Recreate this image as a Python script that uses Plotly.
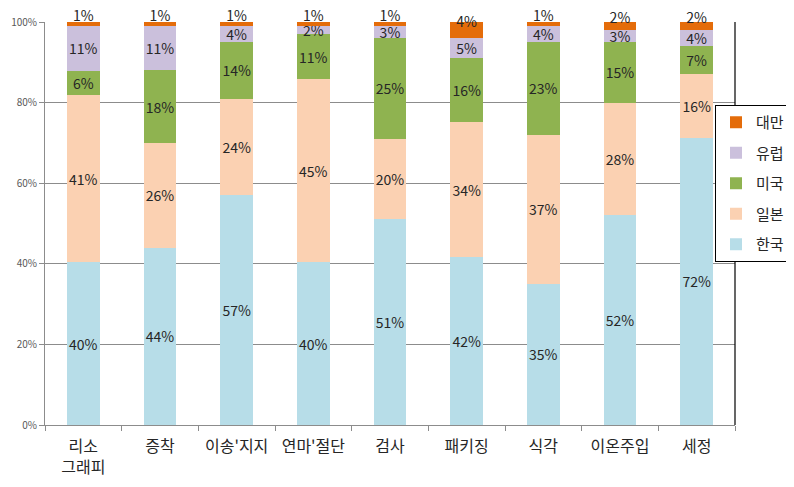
import plotly.graph_objects as go

categories = ["리소<br>그래피", "증착", "이송'지지", "연마'절단", "검사", "패키징", "식각", "이온주입", "세정"]
korea  = [40, 44, 57, 40, 51, 42, 35, 52, 72]
japan  = [41, 26, 24, 45, 20, 34, 37, 28, 16]
usa    = [6, 18, 14, 11, 25, 16, 23, 15, 7]
europe = [11, 11, 4, 2, 3, 5, 4, 3, 4]
taiwan = [1, 1, 1, 1, 1, 4, 1, 2, 2]

series = [
    ("한국", korea, "#B7DDE8"),
    ("일본", japan, "#FBD1B2"),
    ("미국", usa, "#8FB350"),
    ("유럽", europe, "#CBC0DC"),
    ("대만", taiwan, "#E46C0A"),
]

FONT = "Noto Sans CJK KR"
W, H = 786, 479          # page body adds an 8px offset
ML, MR, MT, MB = 37, 59, 14, 62
PW = W - ML - MR
PH = H - MT - MB

fig = go.Figure()
n = len(series)
for i, (name, vals, col) in enumerate(series):
    top = name == "대만"
    # top series: label sits just above its thin segment (blank second line lifts it)
    labels = [f"{v}%<br>&nbsp;" if top else f"{v}%" for v in vals]
    fig.add_trace(go.Bar(
        x=categories, y=vals, name=name, marker_color=col, marker_line_width=0,
        text=labels, texttemplate="%{text}",
        textposition="inside",
        insidetextanchor="middle", textangle=0,
        textfont=dict(family=FONT, size=14, color="#262626"),
        cliponaxis=False, width=0.43, legendgroup=name, legendrank=n - i,
        hoverinfo="skip",
    ))

legend_top = 97  # px from top of figure
fig.update_layout(
    barmode="stack", barnorm="percent",
    width=W, height=H,
    margin=dict(l=ML, r=MR, t=MT, b=MB, autoexpand=False),
    paper_bgcolor="white", plot_bgcolor="white",
    font=dict(family=FONT, color="#262626"),
    uniformtext=dict(minsize=14, mode="show"),
    legend=dict(
        traceorder="grouped", tracegroupgap=8,
        x=(W - 4 - ML) / PW, xanchor="right",
        y=(H - MB - legend_top) / PH, yanchor="top",
        bordercolor="#000000", borderwidth=1, bgcolor="white",
        font=dict(family=FONT, size=15, color="#262626"),
        itemwidth=30,
    ),
    shapes=[dict(type="line", xref="paper", yref="paper", x0=1, x1=1, y0=0, y1=1,
                 line=dict(color="#000000", width=1.2))],
)
fig.update_yaxes(
    range=[0, 100], dtick=20, ticksuffix="%", automargin=False,
    showgrid=True, gridcolor="#8C8C8C", gridwidth=1,
    showline=True, linecolor="#8C8C8C", linewidth=1,
    ticks="outside", ticklen=5, tickcolor="#8C8C8C",
    tickfont=dict(family=FONT, size=10, color="#595959"),
    zeroline=False,
)
fig.update_xaxes(
    automargin=False,
    showline=True, linecolor="#8C8C8C", linewidth=1,
    ticks="outside", ticklen=5, tickcolor="#8C8C8C", tickson="boundaries",
    ticklabelstandoff=7,
    tickfont=dict(family=FONT, size=16, color="#262626"),
)
fig.write_html("out.html")
